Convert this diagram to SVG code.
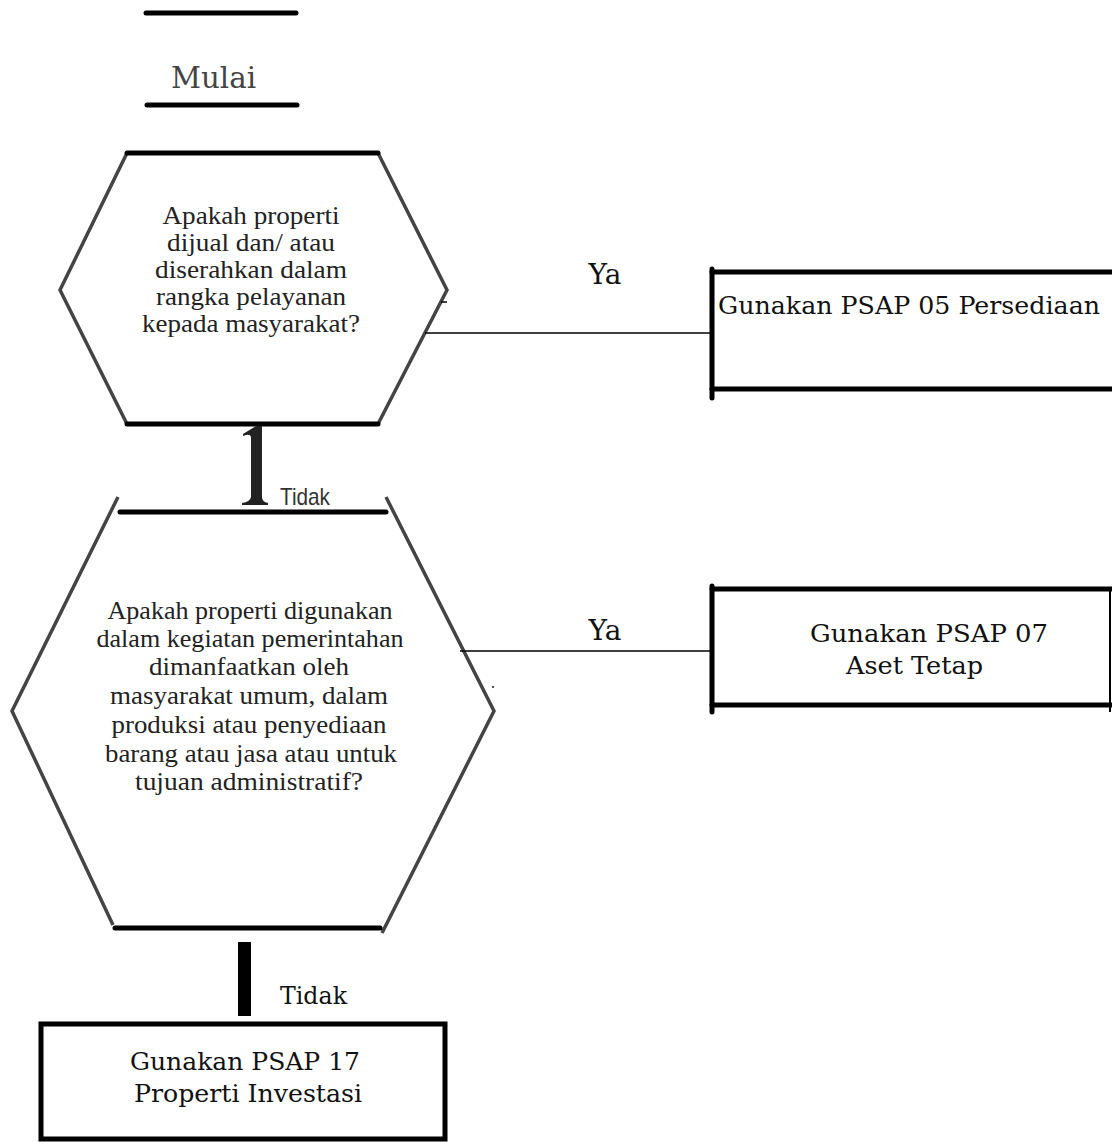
<svg xmlns="http://www.w3.org/2000/svg" width="1112" height="1142" viewBox="0 0 1112 1142">
<style>
.bg{fill:#fff}
.bar{stroke:#000;stroke-width:5;fill:none;stroke-linecap:round}
.side{stroke:#444;stroke-width:3.5;fill:none;stroke-linejoin:miter}
.q{font-family:"Liberation Serif","Times New Roman",serif;font-size:25px;fill:#222;text-anchor:middle}
.b{font-family:"DejaVu Serif",serif;font-size:24px;fill:#111}
.lbl{font-family:"DejaVu Serif",serif;font-size:28px;fill:#111;text-anchor:middle}
.conn{stroke:#000;stroke-width:1.5;fill:none}
</style>
<rect class="bg" x="0" y="0" width="1112" height="1142"/>
<g id="start">
  <line class="bar" x1="146" y1="13" x2="296" y2="13"/>
  <line class="bar" x1="147" y1="105" x2="297" y2="105"/>
  <text x="171" y="88" font-family="DejaVu Serif, serif" font-size="30" fill="#444" textLength="85" lengthAdjust="spacingAndGlyphs">Mulai</text>
</g>
<g id="decision1">
  <polygon points="127,153 378,153 447,290 378,424 127,424 60,290" fill="#fff" stroke="none"/>
  <polyline class="side" points="127,153 60,290 127,424"/>
  <polyline class="side" points="378,153 447,290 378,424"/>
  <line class="bar" x1="127" y1="153" x2="378" y2="153" stroke-linecap="butt"/>
  <line class="bar" x1="127" y1="424" x2="378" y2="424" stroke-linecap="butt"/>
  <text class="q" x="251" y="224" textLength="177" lengthAdjust="spacingAndGlyphs">Apakah properti</text>
  <text class="q" x="251" y="251" textLength="168" lengthAdjust="spacingAndGlyphs">dijual dan/ atau</text>
  <text class="q" x="251" y="278" textLength="192" lengthAdjust="spacingAndGlyphs">diserahkan dalam</text>
  <text class="q" x="251" y="305" textLength="190" lengthAdjust="spacingAndGlyphs">rangka pelayanan</text>
  <text class="q" x="251" y="332" textLength="218" lengthAdjust="spacingAndGlyphs">kepada  masyarakat?</text>
</g>
<g id="box1">
  <line class="bar" x1="712" y1="272" x2="1114" y2="272"/>
  <line class="bar" x1="712" y1="389" x2="1114" y2="389"/>
  <line class="bar" x1="712" y1="269" x2="712" y2="398"/>
  <text class="b" x="718" y="314" textLength="382" lengthAdjust="spacingAndGlyphs">Gunakan PSAP 05 Persediaan</text>
</g>
<g id="decision2">
  <polygon points="120,512 386,512 494,711 382,928 115,928 12,711" fill="#fff" stroke="none"/>
  <polyline class="side" points="118,497 12,711 113,925"/>
  <polyline class="side" points="386,497 494,711 382,933"/>
  <line class="bar" x1="120" y1="512" x2="386" y2="512" stroke-linecap="butt"/>
  <line class="bar" x1="115" y1="928" x2="380" y2="928" stroke-linecap="butt"/>
  <text class="q" x="250" y="619" textLength="285" lengthAdjust="spacingAndGlyphs">Apakah properti digunakan</text>
  <text class="q" x="250" y="647" textLength="307" lengthAdjust="spacingAndGlyphs">dalam kegiatan pemerintahan</text>
  <text class="q" x="249" y="675" textLength="200" lengthAdjust="spacingAndGlyphs">dimanfaatkan oleh</text>
  <text class="q" x="249" y="704" textLength="278" lengthAdjust="spacingAndGlyphs">masyarakat umum, dalam</text>
  <text class="q" x="249" y="733" textLength="275" lengthAdjust="spacingAndGlyphs">produksi atau penyediaan</text>
  <text class="q" x="251" y="762" textLength="292" lengthAdjust="spacingAndGlyphs">barang atau jasa atau untuk</text>
  <text class="q" x="249" y="790" textLength="228" lengthAdjust="spacingAndGlyphs">tujuan administratif?</text>
</g>
<g id="box2">
  <line class="bar" x1="712" y1="589" x2="1112" y2="589"/>
  <line class="bar" x1="712" y1="705" x2="1112" y2="705"/>
  <line class="bar" x1="712" y1="586" x2="712" y2="712"/>
  <line x1="1110" y1="589" x2="1110" y2="712" stroke="#000" stroke-width="2"/>
  <text class="b" x="810" y="642" textLength="238" lengthAdjust="spacingAndGlyphs">Gunakan PSAP 07</text>
  <text class="b" x="846" y="674" textLength="137" lengthAdjust="spacingAndGlyphs">Aset Tetap</text>
</g>
<g id="box3">
  <rect x="41" y="1024" width="404" height="115" fill="none" stroke="#000" stroke-width="5"/>
  <text class="b" x="130" y="1070" textLength="230" lengthAdjust="spacingAndGlyphs">Gunakan PSAP 17</text>
  <text class="b" x="134" y="1102" textLength="228" lengthAdjust="spacingAndGlyphs">Properti Investasi</text>
</g>
<g id="connectors">
  <line class="conn" x1="425" y1="333" x2="711" y2="333"/>
  <line class="conn" x1="441" y1="302" x2="447" y2="302"/>
  <text class="lbl" x="605" y="284">Ya</text>
  <line class="conn" x1="460" y1="651" x2="711" y2="651"/>
  <rect x="492" y="686" width="2" height="2" fill="#555"/>
  <text class="lbl" x="605" y="640">Ya</text>
  <path d="M256 426 L262 426 L262 497 Q262 502 268 503 L268 505 L242 505 L242 503 Q250 502 251 497 L251 438 Q251 434 246 435 L243 436 L243 434 Z" fill="#222"/>
  <text x="280" y="505" font-family="Liberation Sans, Arial, sans-serif" font-size="24" fill="#333" textLength="50" lengthAdjust="spacingAndGlyphs">Tidak</text>
  <rect x="238" y="942" width="13" height="74" fill="#000"/>
  <text x="280" y="1004" font-family="DejaVu Serif, serif" font-size="24" fill="#111" textLength="67" lengthAdjust="spacingAndGlyphs">Tidak</text>
</g>
</svg>
